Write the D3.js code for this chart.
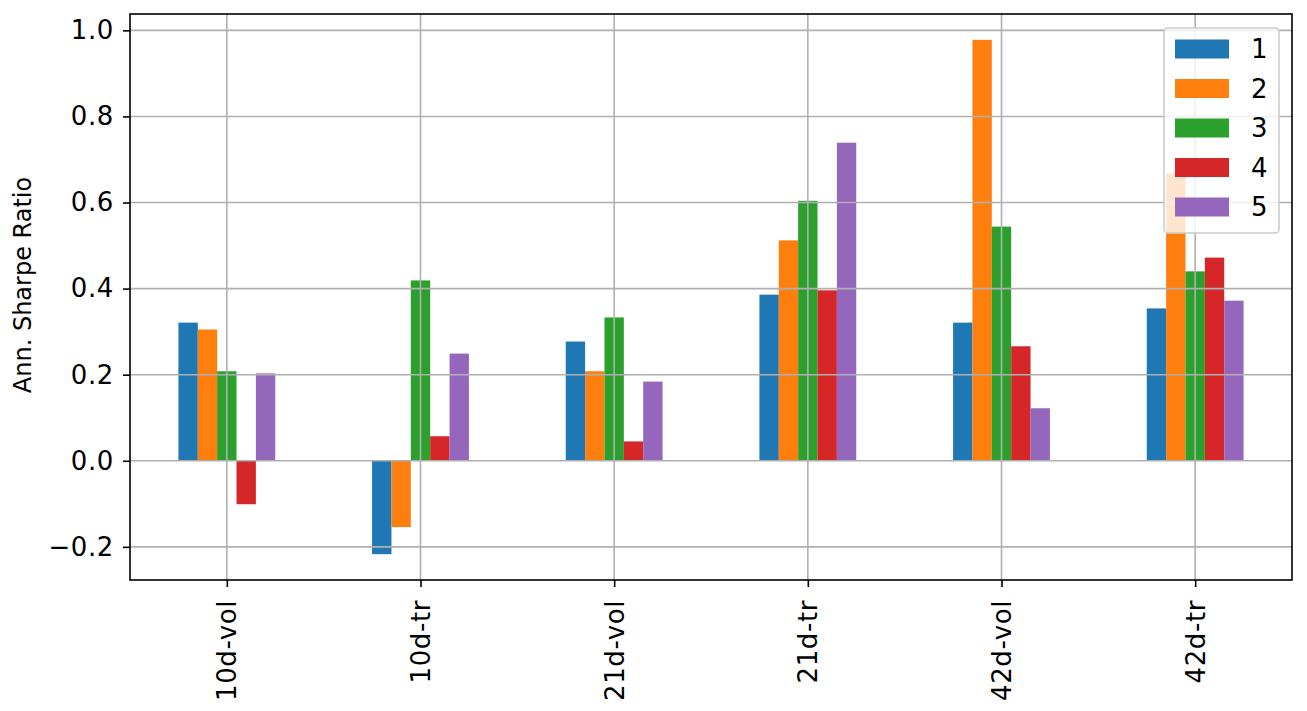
<!DOCTYPE html>
<html><head><meta charset="utf-8">
<script src="https://cdn.jsdelivr.net/npm/d3@7"></script>
<style>body{margin:0;background:#fff}svg{display:block}text{font-family:"DejaVu Sans",sans-serif;fill:#000}</style>
</head><body>
<script>
const categories = ["10d-vol","10d-tr","21d-vol","21d-tr","42d-vol","42d-tr"];
const seriesNames = ["1","2","3","4","5"];
const s1 = [0.321, -0.217, 0.277, 0.386, 0.321, 0.354];
const s2 = [0.305, -0.154, 0.208, 0.512, 0.978, 0.667];
const s3 = [0.208, 0.419, 0.333, 0.604, 0.544, 0.440];
const s4 = [-0.101, 0.057, 0.045, 0.396, 0.266, 0.472];
const s5 = [0.203, 0.249, 0.184, 0.739, 0.122, 0.372];
const colors = ["#1f77b4","#ff7f0e","#2ca02c","#d62728","#9467bd"];
const yTicks = [-0.2, 0.0, 0.2, 0.4, 0.6, 0.8, 1.0];
const yLabel = "Ann. Sharpe Ratio";
const series = [s1,s2,s3,s4,s5];

const W = 1307, H = 711;
const L = 130, R = 1292, T = 14, B = 580;
const svg = d3.select("body").append("svg").attr("width",W).attr("height",H);

const x = d3.scaleLinear().domain([-0.5, categories.length-0.5]).range([L,R]);
const y = d3.scaleLinear().domain([-0.277, 1.038]).range([B,T]);
const barW = 0.1;

// bars
series.forEach((vals, si) => {
  svg.append("g").selectAll("rect").data(vals).join("rect")
    .attr("x",(d,i)=>x(i - 0.25 + si*barW))
    .attr("width", x(barW) - x(0))
    .attr("y", d=>y(Math.max(0,d)))
    .attr("height", d=>Math.abs(y(d)-y(0)))
    .attr("fill", colors[si]);
});

// grid (above bars, as in matplotlib default)
const g = svg.append("g");
g.selectAll(".gy").data(yTicks).join("line")
  .attr("x1",L).attr("x2",R).attr("y1",d=>y(d)).attr("y2",d=>y(d))
  .attr("stroke","#b0b0b0").attr("stroke-width",1.6);
g.selectAll(".gx").data(categories).join("line")
  .attr("x1",(d,i)=>x(i)).attr("x2",(d,i)=>x(i)).attr("y1",T).attr("y2",B)
  .attr("stroke","#b0b0b0").attr("stroke-width",1.6);

// axes
const yAxis = d3.axisLeft(y).tickValues(yTicks).tickSize(7).tickPadding(9)
  .tickFormat(d => (d<0?"\u2212":"") + Math.abs(d).toFixed(1));
const ya = svg.append("g").attr("transform",`translate(${L},0)`).call(yAxis);
ya.select(".domain").remove();
ya.selectAll("line").attr("stroke","#000").attr("stroke-width",1.6);
ya.selectAll("text").attr("font-size",26).attr("letter-spacing","0.6px").attr("font-family","DejaVu Sans");

const xAxis = d3.axisBottom(x).tickValues(d3.range(categories.length)).tickSize(7)
  .tickFormat(i=>categories[i]);
const xa = svg.append("g").attr("transform",`translate(0,${B})`).call(xAxis);
xa.select(".domain").remove();
xa.selectAll("line").attr("stroke","#000").attr("stroke-width",1.6);
xa.selectAll("text").attr("font-size",26).attr("letter-spacing","0.6px").attr("font-family","DejaVu Sans")
  .attr("transform","rotate(-90)").attr("text-anchor","end")
  .attr("x",-20).attr("y",0).attr("dy","0.35em");

// frame
svg.append("rect").attr("x",L).attr("y",T).attr("width",R-L).attr("height",B-T)
  .attr("fill","none").attr("stroke","#000").attr("stroke-width",1.6);

// y label
svg.append("text").attr("transform","translate(31,285) rotate(-90)")
  .attr("text-anchor","middle").attr("font-size",24).text(yLabel);

// legend
const lg = svg.append("g");
lg.append("rect").attr("x",1164).attr("y",28).attr("width",115).attr("height",205)
  .attr("rx",4).attr("fill","#fff").attr("fill-opacity",0.8)
  .attr("stroke","#cccccc").attr("stroke-width",1.6);
seriesNames.forEach((n,i)=>{
  const cy = 49 + i*39.5;
  lg.append("rect").attr("x",1175).attr("y",cy-9.5).attr("width",54).attr("height",19).attr("fill",colors[i]);
  lg.append("text").attr("x",1251).attr("y",cy).attr("dy","0.35em").attr("font-size",26).text(n);
});
</script>
</body></html>
